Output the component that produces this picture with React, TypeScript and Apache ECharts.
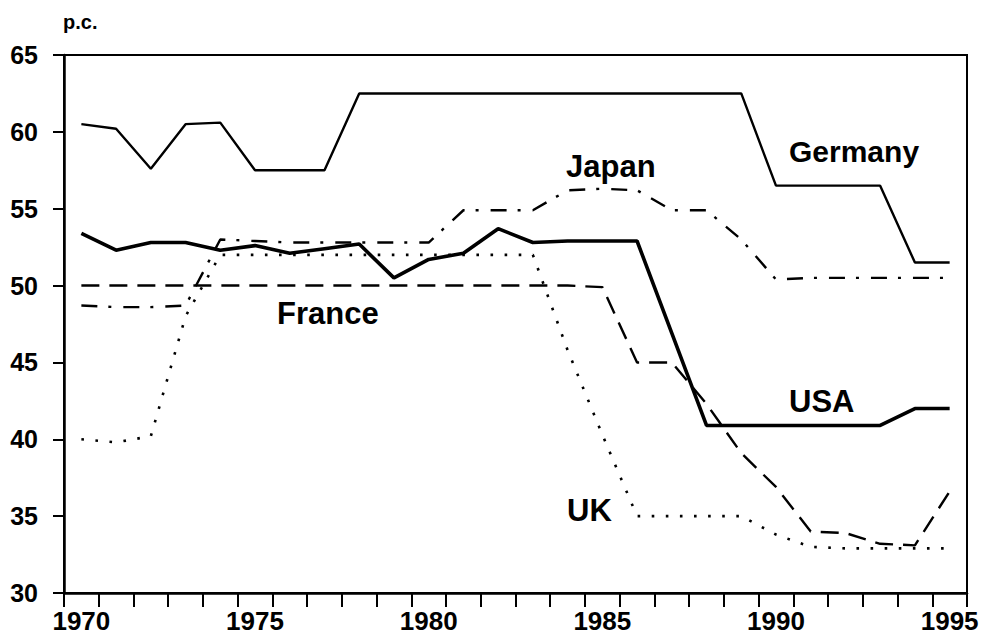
import React, { useEffect, useRef } from "react";
import * as echarts from "echarts";

const years = [
  "1970", "1971", "1972", "1973", "1974", "1975", "1976", "1977", "1978", "1979",
  "1980", "1981", "1982", "1983", "1984", "1985", "1986", "1987", "1988", "1989",
  "1990", "1991", "1992", "1993", "1994", "1995",
];

const germany = [
  60.5, 60.2, 57.6, 60.5, 60.6, 57.5, 57.5, 57.5, 62.5, 62.5,
  62.5, 62.5, 62.5, 62.5, 62.5, 62.5, 62.5, 62.5, 62.5, 62.5,
  56.5, 56.5, 56.5, 56.5, 51.5, 51.5,
];

const japan = [
  48.7, 48.6, 48.6, 48.7, 53.0, 52.9, 52.8, 52.8, 52.8, 52.8,
  52.8, 54.9, 54.9, 54.9, 56.2, 56.3, 56.2, 54.9, 54.9, 53.0,
  50.4, 50.5, 50.5, 50.5, 50.5, 50.5,
];

const usa = [
  53.4, 52.3, 52.8, 52.8, 52.3, 52.6, 52.1, 52.4, 52.7, 50.5,
  51.7, 52.1, 53.7, 52.8, 52.9, 52.9, 52.9, 46.9, 40.9, 40.9,
  40.9, 40.9, 40.9, 40.9, 42.0, 42.0,
];

const france = [
  50.0, 50.0, 50.0, 50.0, 50.0, 50.0, 50.0, 50.0, 50.0, 50.0,
  50.0, 50.0, 50.0, 50.0, 50.0, 49.9, 45.0, 45.0, 42.3, 39.1,
  36.9, 34.0, 33.9, 33.2, 33.1, 36.6,
];

const uk = [
  40.0, 39.8, 40.2, 48.0, 52.0, 52.0, 52.0, 52.0, 52.0, 52.0,
  52.0, 52.0, 52.0, 52.0, 45.8, 40.3, 35.0, 35.0, 35.0, 35.0,
  33.8, 33.0, 32.9, 32.9, 32.9, 32.9,
];

const yTicks = { min: 30, max: 65, interval: 5 };

const FONT = '"Liberation Sans", Arial, Helvetica, sans-serif';

export default function App() {
  const ref = useRef<HTMLDivElement>(null);

  useEffect(() => {
    if (!ref.current) return;
    const chart = echarts.init(ref.current, null, { renderer: "svg" });

    const lineSeries = (name: string, data: number[], width: number, type: any) => ({
      name,
      type: "line",
      data,
      symbol: "none",
      smooth: false,
      silent: true,
      lineStyle: { color: "#000", width, type },
    });

    const labelText = (text: string, x: number, y: number, size = 30) => ({
      type: "text",
      x,
      y,
      silent: true,
      style: {
        text,
        fill: "#000",
        font: `bold ${size}px ${FONT}`,
        textAlign: "left",
        textVerticalAlign: "middle",
      },
    });

    chart.setOption({
      animation: false,
      backgroundColor: "#fff",
      grid: {
        left: 64,
        right: 15,
        top: 55,
        bottom: 45,
        show: true,
        borderColor: "#000",
        borderWidth: 2,
        backgroundColor: "transparent",
      },
      xAxis: {
        type: "category",
        data: years,
        boundaryGap: true,
        axisLine: { show: true, lineStyle: { color: "#000", width: 2.5 } },
        axisTick: {
          show: true,
          interval: 0,
          inside: false,
          length: 14,
          lineStyle: { color: "#000", width: 2 },
        },
        axisLabel: {
          interval: 4,
          margin: 15,
          color: "#000",
          fontSize: 26,
          fontWeight: "bold",
          fontFamily: FONT,
        },
        splitLine: { show: false },
      },
      yAxis: {
        type: "value",
        min: yTicks.min,
        max: yTicks.max,
        interval: yTicks.interval,
        axisLine: { show: true, lineStyle: { color: "#000", width: 2.5 } },
        axisTick: {
          show: true,
          inside: false,
          length: 11,
          lineStyle: { color: "#000", width: 2 },
        },
        axisLabel: {
          margin: 26,
          color: "#000",
          fontSize: 25,
          fontWeight: "bold",
          fontFamily: FONT,
        },
        splitLine: { show: false },
      },
      series: [
        lineSeries("Germany", germany, 2.4, "solid"),
        lineSeries("Japan", japan, 2.4, [16, 11, 3, 12]),
        lineSeries("USA", usa, 3.6, "solid"),
        lineSeries("France", france, 2.4, [18, 10]),
        lineSeries("UK", uk, 2.6, [2.6, 11.5]),
      ],
      graphic: [
        labelText("p.c.", 63, 22, 20),
        labelText("Germany", 789, 151, 30),
        labelText("Japan", 566, 166, 31),
        labelText("France", 277, 313, 31),
        labelText("USA", 789, 401, 31),
        labelText("UK", 567, 510, 31),
      ],
    });

    return () => {
      chart.dispose();
    };
  }, []);

  return (
    <div
      ref={ref}
      style={{ position: "fixed", left: 0, top: 0, width: 982, height: 638, background: "#fff" }}
    />
  );
}
